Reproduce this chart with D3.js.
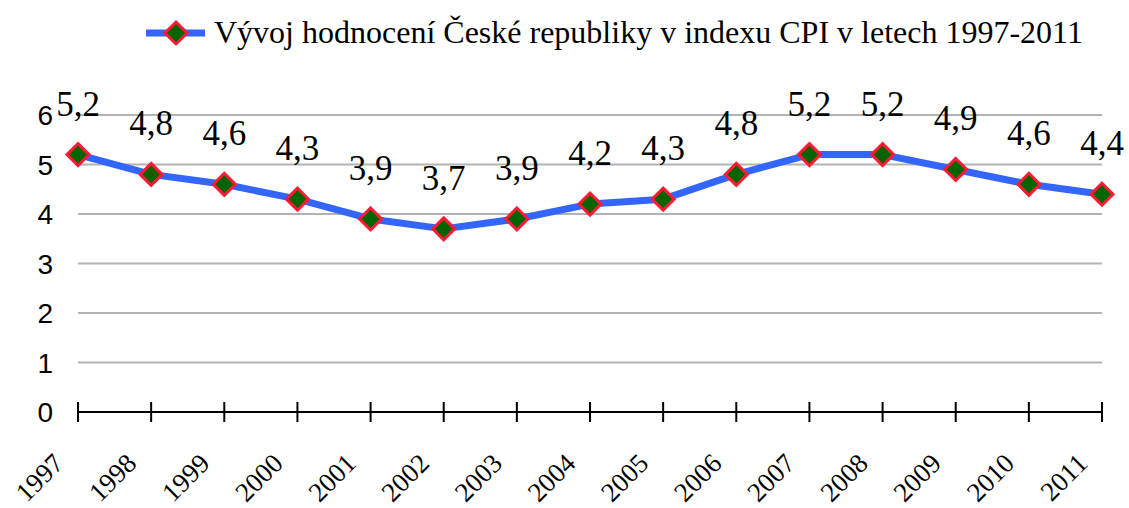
<!DOCTYPE html>
<html>
<head>
<meta charset="utf-8">
<script src="https://cdn.jsdelivr.net/npm/d3@7"></script>
<style>
  body { margin: 0; background: #fff; }
  .serif { font-family: "Liberation Serif", "Times New Roman", serif; }
  .sans { font-family: "Liberation Sans", Arial, sans-serif; }
</style>
</head>
<body>
<svg width="1129" height="508"></svg>
<script>
// Chart data
const years = ["1997","1998","1999","2000","2001","2002","2003","2004","2005","2006","2007","2008","2009","2010","2011"];
const cpi = [5.2, 4.8, 4.6, 4.3, 3.9, 3.7, 3.9, 4.2, 4.3, 4.8, 5.2, 5.2, 4.9, 4.6, 4.4];
const yTicks = [0, 1, 2, 3, 4, 5, 6];
const seriesName = "Vývoj hodnocení České republiky v indexu CPI v letech 1997-2011";

const svg = d3.select("svg");

// Scales
const x = d3.scalePoint().domain(years).range([78, 1102]);
const y = d3.scaleLinear().domain([0, 6]).range([412, 115]);

// Gridlines
svg.append("g")
    .selectAll("line")
    .data(yTicks.filter(d => d > 0))
    .enter().append("line")
    .attr("x1", 78)
    .attr("x2", 1102)
    .attr("y1", d => y(d))
    .attr("y2", d => y(d))
    .attr("stroke", "#b3b3b3")
    .attr("stroke-width", 2);

// Y labels
svg.append("g")
    .selectAll("text")
    .data(yTicks)
    .enter().append("text")
    .attr("class", "sans")
    .attr("x", 53)
    .attr("y", d => y(d) + 10)
    .attr("text-anchor", "end")
    .attr("font-size", 28)
    .text(d => d);

// X axis line + ticks
svg.append("line")
    .attr("x1", 78).attr("x2", 1102)
    .attr("y1", 412).attr("y2", 412)
    .attr("stroke", "#000").attr("stroke-width", 2);

svg.append("g")
    .selectAll("line")
    .data(years)
    .enter().append("line")
    .attr("x1", d => x(d)).attr("x2", d => x(d))
    .attr("y1", 402).attr("y2", 422)
    .attr("stroke", "#000").attr("stroke-width", 2);

// X labels, rotated
svg.append("g")
    .selectAll("text")
    .data(years)
    .enter().append("text")
    .attr("class", "serif")
    .attr("transform", d => "translate(" + (x(d) - 13) + ",465) rotate(-45)")
    .attr("text-anchor", "end")
    .attr("font-size", 27)
    .text(d => d);

// Line
const line = d3.line()
    .x((d, i) => x(years[i]))
    .y(d => y(d));

svg.append("path")
    .datum(cpi)
    .attr("d", line)
    .attr("fill", "none")
    .attr("stroke", "#3366ff")
    .attr("stroke-width", 7)
    .attr("stroke-linejoin", "round");

// Diamond markers
const diamond = "M0,-11 L11,0 L0,11 L-11,0 Z";
svg.append("g")
    .selectAll("path")
    .data(cpi)
    .enter().append("path")
    .attr("d", diamond)
    .attr("transform", (d, i) => "translate(" + x(years[i]) + "," + y(d) + ")")
    .attr("fill", "#006400")
    .attr("stroke", "#ff1a33")
    .attr("stroke-width", 3);

// Data labels
svg.append("g")
    .selectAll("text")
    .data(cpi)
    .enter().append("text")
    .attr("class", "serif")
    .attr("x", (d, i) => x(years[i]))
    .attr("y", d => y(d) - 39)
    .attr("text-anchor", "middle")
    .attr("font-size", 35)
    .text(d => String(d).replace(".", ","));

// Legend
svg.append("line")
    .attr("x1", 146).attr("x2", 205)
    .attr("y1", 33).attr("y2", 33)
    .attr("stroke", "#3366ff").attr("stroke-width", 7);
svg.append("path")
    .attr("d", diamond)
    .attr("transform", "translate(176,33)")
    .attr("fill", "#006400")
    .attr("stroke", "#ff1a33")
    .attr("stroke-width", 3);
svg.append("text")
    .attr("class", "serif")
    .attr("x", 214)
    .attr("y", 43)
    .attr("font-size", 32)
    .text(seriesName);
</script>
</body>
</html>
